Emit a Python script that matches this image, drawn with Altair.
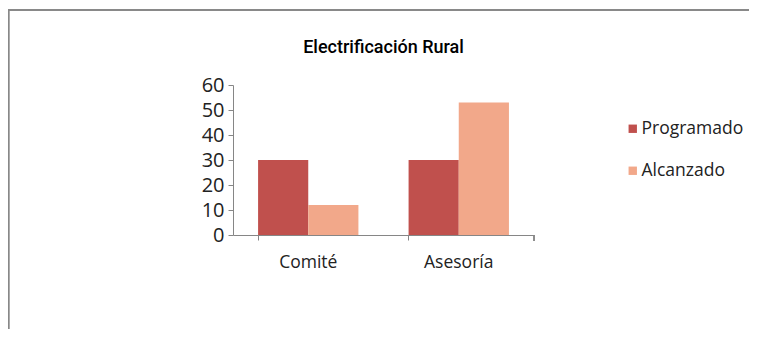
import altair as alt
import pandas as pd

categories = ["Comité", "Asesoría"]
programado = [30, 30]
alcanzado = [12, 53]
series = ["Programado", "Alcanzado"]
colors = ["#C0504D", "#F2A88A"]
y_ticks = [0, 10, 20, 30, 40, 50, 60]
title_text = ["Electrificación Rural"]

rows = []
for i, c in enumerate(categories):
    rows.append({"cat": c, "serie": "Programado", "val": programado[i]})
    rows.append({"cat": c, "serie": "Alcanzado", "val": alcanzado[i]})
df = pd.DataFrame(rows)

FONT = "Open Sans"
AX = "#868686"

bars = alt.Chart(df).mark_bar().encode(
    x=alt.X("cat:N", sort=categories, title=None,
            scale=alt.Scale(paddingInner=1/3, paddingOuter=1/6),
            axis=alt.Axis(labelAngle=0, bandPosition=0, labelFontSize=17.5,
                          labelPadding=13, tickSize=5, domainColor=AX,
                          tickColor=AX, labelColor="#222", labelFont=FONT,
                          grid=False)),
    xOffset=alt.XOffset("serie:N", sort=series),
    y=alt.Y("val:Q", title=None,
            scale=alt.Scale(domain=[0, 60]),
            axis=alt.Axis(values=y_ticks, grid=False, labelFontSize=20,
                          tickSize=5, domainColor=AX, tickColor=AX,
                          labelColor="#222", labelFont=FONT, labelPadding=4)),
    color=alt.Color("serie:N", sort=series,
                    scale=alt.Scale(domain=series, range=colors),
                    legend=alt.Legend(title=None, orient="none", legendX=391, legendY=35,
                                      symbolType="square", symbolSize=70,
                                      symbolStrokeWidth=0, labelFontSize=17.5,
                                      labelFont=FONT, labelColor="#222",
                                      rowPadding=23, labelOffset=0)),
)

title = alt.Chart(pd.DataFrame({"t": title_text})).mark_text(
    fontSize=18, font="Roboto", fontWeight=500, color="#000", baseline="alphabetic",
    align="center"
).encode(x=alt.value(150.5), y=alt.value(-32), text="t:N")

end_tick = alt.Chart(df).mark_rule(color=AX).encode(
    x=alt.value(301), y=alt.value(150), y2=alt.value(156)
)
border_top = alt.Chart(df).mark_rule(color="#888888", strokeWidth=1.5).encode(
    x=alt.value(-225), x2=alt.value(516), y=alt.value(-75)
)
border_left = alt.Chart(df).mark_rule(color="#888888", strokeWidth=1.5).encode(
    x=alt.value(-224.5), y=alt.value(-75), y2=alt.value(260)
)

chart = alt.layer(bars, end_tick, border_top, border_left, title).properties(
    width=301, height=150,
    autosize="none",
    padding={"left": 225, "top": 77, "right": 215, "bottom": 94},
).configure(background="white").configure_view(strokeWidth=0, stroke=None)

chart.save("out.html", embed_options={"renderer": "svg", "actions": False})
